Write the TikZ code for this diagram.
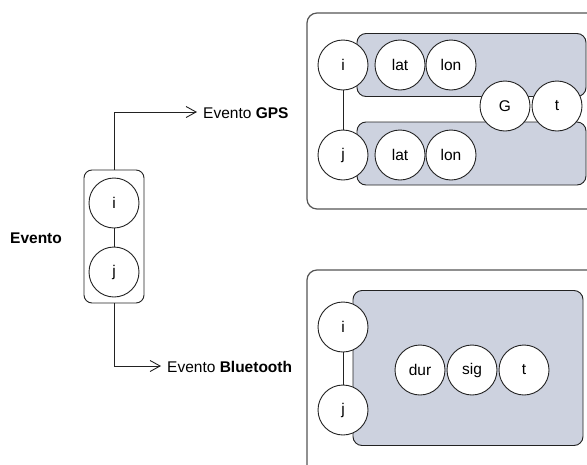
\documentclass[tikz,border=0pt]{standalone}
\usepackage{fontspec}
\setmainfont{Liberation Sans}
\usetikzlibrary{arrows.meta}
\definecolor{slate}{HTML}{CDD2DF}
\definecolor{ink}{HTML}{222222}
\definecolor{frame}{HTML}{555555}
\tikzset{
  attr/.style={circle, draw=ink, line width=0.9pt, fill=white, minimum size=50pt,
               inner sep=0pt, font=\fontsize{15.5}{18}\selectfont},
  holder/.style={draw=frame, line width=1.2pt, rounded corners=10pt, fill=white},
  group/.style={draw=ink, line width=0.9pt, rounded corners=9pt, fill=slate},
  wire/.style={draw=ink, line width=0.9pt},
  flow/.style={draw=ink, line width=0.9pt, -{Straight Barb[length=10pt,width=11pt]}},
  caption/.style={anchor=west, inner sep=0pt, font=\fontsize{15.5}{18}\selectfont}
}
\begin{document}
\begin{tikzpicture}[x=1pt,y=-1pt]
\useasboundingbox (0,0) rectangle (587,464);
\clip (0,0) rectangle (587,464);

% ---- generic event ----
\node[draw=ink, line width=0.9pt, rounded corners=8pt, minimum width=60pt,
      minimum height=133pt, inner sep=0pt] (ev) at (114,236.5) {};
\node[attr] (ei) at (114,203) {i};
\node[attr] (ej) at (114,272) {j};
\draw[wire] (ei) -- (ej);
\node[caption, font=\fontsize{15.5}{18}\selectfont\bfseries] (evname) at (10,238) {Evento};

\coordinate (gpsbend) at (114,112);
\coordinate (gpsend) at (197,112);
\coordinate (btbend) at (114,366);
\coordinate (btend) at (161,366);
\node[caption] (gpslbl) at (203,113) {Evento \textbf{GPS}};
\node[caption] (btlbl) at (167,367) {Evento \textbf{Bluetooth}};
\draw[flow] (ev.north) -- (gpsbend) -- (gpsend);
\draw[flow] (ev.south) -- (btbend) -- (btend);

% ---- GPS event ----
\node[holder, minimum width=293pt, minimum height=196pt, inner sep=0pt] (gpsbox) at (453.5,111) {};
\node[group, minimum width=229pt, minimum height=63pt, inner sep=0pt] (gtop) at (471.5,65) {};
\node[group, minimum width=229pt, minimum height=63pt, inner sep=0pt] (gbot) at (471.5,153.5) {};
\node[attr] (gi) at (343,65) {i};
\node[attr] (gj) at (343,155) {j};
\draw[wire] (gi) -- (gj);
\node[attr] (glat1) at (400,65) {lat};
\node[attr] (glon1) at (451,65) {lon};
\node[attr] (glat2) at (400,155) {lat};
\node[attr] (glon2) at (451,155) {lon};
\node[attr] (gG) at (505,106) {G};
\node[attr] (gt) at (557,106) {t};

% ---- Bluetooth event ----
\node[holder, minimum width=293pt, minimum height=206pt, inner sep=0pt] (btbox) at (453.5,373) {};
\node[group, minimum width=230pt, minimum height=155pt, inner sep=0pt] (bgrp) at (468,368) {};
\node[attr] (bi) at (343,327) {i};
\node[attr] (bj) at (343,410) {j};
\draw[wire] (bi) -- (bj);
\node[attr] (bdur) at (420,370) {dur};
\node[attr] (bsig) at (472,370) {sig};
\node[attr] (bt) at (524,370) {t};
\end{tikzpicture}
\end{document}
